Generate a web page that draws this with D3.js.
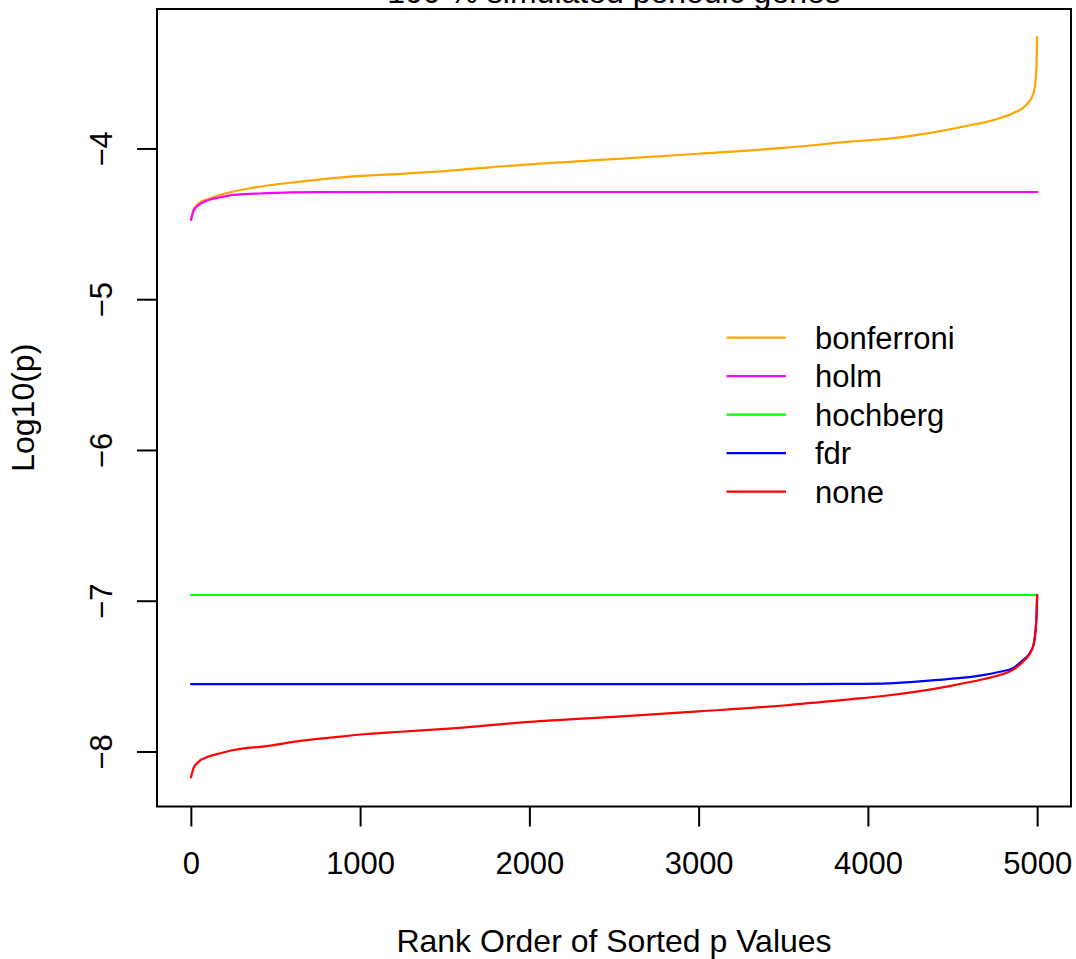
<!DOCTYPE html>
<html>
<head>
<meta charset="utf-8">
<script src="https://cdn.jsdelivr.net/npm/d3@7"></script>
<style>
  html, body { margin: 0; padding: 0; background: #ffffff; }
  svg { display: block; }
  text { font-family: "Liberation Sans", Arial, Helvetica, sans-serif; fill: #000; }
</style>
</head>
<body>
<svg id="chart" width="1076" height="959"></svg>
<script>
// ---- data ----
const titleText = "100 % simulated periodic genes";
const xLabel = "Rank Order of Sorted p Values";
const yLabel = "Log10(p)";
const xTicks = [0, 1000, 2000, 3000, 4000, 5000];
const yTicks = [-8, -7, -6, -5, -4];
const methods = ["bonferroni", "holm", "hochberg", "fdr", "none"];
const methodColors = ["#FFA500", "#FF00FF", "#00FF00", "#0000FF", "#FF0000"];

const bonferroniRank = [1, 16, 46, 105, 174, 350, 646, 940, 1237, 1500, 2000, 2500, 3000, 3500, 3893, 4188, 4385, 4582, 4759, 4857, 4936, 4975, 4991, 4997, 5000];
const bonferroniLogP = [-4.474, -4.408, -4.364, -4.335, -4.308, -4.264, -4.220, -4.187, -4.169, -4.150, -4.105, -4.071, -4.035, -3.996, -3.955, -3.926, -3.893, -3.851, -3.806, -3.767, -3.711, -3.645, -3.546, -3.413, -3.262];

const holmRank = [1, 16, 46, 105, 174, 253, 450, 750, 1250, 5000];
const holmLogP = [-4.474, -4.413, -4.375, -4.342, -4.324, -4.308, -4.297, -4.290, -4.289, -4.289];

const hochbergRank = [1, 5000];
const hochbergLogP = [-6.962, -6.962];

const fdrRank = [1, 3500, 3893, 4090, 4287, 4483, 4680, 4779, 4857, 4916, 4956, 4979, 4991, 4997, 5000];
const fdrLogP = [-7.553, -7.553, -7.552, -7.550, -7.537, -7.519, -7.493, -7.471, -7.448, -7.393, -7.348, -7.290, -7.192, -7.082, -6.962];

const noneRank = [1, 16, 46, 105, 174, 253, 450, 646, 841, 1040, 1237, 1500, 2000, 2500, 3000, 3500, 3893, 4090, 4287, 4483, 4680, 4779, 4857, 4916, 4956, 4979, 4991, 4997, 5000];
const noneLogP = [-8.171, -8.111, -8.068, -8.034, -8.012, -7.990, -7.964, -7.930, -7.906, -7.884, -7.869, -7.850, -7.804, -7.770, -7.734, -7.695, -7.654, -7.632, -7.603, -7.566, -7.521, -7.493, -7.459, -7.404, -7.353, -7.293, -7.194, -7.083, -6.962];

const seriesRanks = [bonferroniRank, holmRank, hochbergRank, fdrRank, noneRank];
const seriesValues = [bonferroniLogP, holmLogP, hochbergLogP, fdrLogP, noneLogP];

// ---- layout ----
const plot = { left: 157, right: 1071, top: 9, bottom: 806.5 };
const tickFont = 31;
const labelFont = 32;

const svg = d3.select("#chart");

const x = d3.scaleLinear().domain([-200, 5200]).range([plot.left, plot.right]);
const y = d3.scaleLinear().domain([-8.365, -3.075]).range([plot.bottom, plot.top]);

// series lines
const line = d3.line().x(d => x(d[0])).y(d => y(d[1])).curve(d3.curveMonotoneX);
methods.forEach((m, i) => {
  const pts = seriesRanks[i].map((r, j) => [r, seriesValues[i][j]]);
  svg.append("path")
    .datum(pts)
    .attr("d", line)
    .attr("fill", "none")
    .attr("stroke", methodColors[i])
    .attr("stroke-width", 2.2)
    .attr("stroke-linejoin", "round")
    .attr("stroke-linecap", "round");
});

// box
svg.append("rect")
  .attr("x", plot.left).attr("y", plot.top)
  .attr("width", plot.right - plot.left).attr("height", plot.bottom - plot.top)
  .attr("fill", "none").attr("stroke", "#000").attr("stroke-width", 2);

// x axis
const gx = svg.append("g")
  .attr("transform", `translate(0,${plot.bottom})`)
  .call(d3.axisBottom(x).tickValues(xTicks).tickSize(20).tickPadding(25).tickFormat(d3.format("d")));
gx.select(".domain").remove();
gx.selectAll("line").attr("stroke", "#000").attr("stroke-width", 2);
gx.selectAll("text").attr("font-size", tickFont).attr("font-family", "Liberation Sans, Arial, sans-serif").attr("fill", "#000");

// y axis
const gy = svg.append("g")
  .attr("transform", `translate(${plot.left},0)`)
  .call(d3.axisLeft(y).tickValues(yTicks).tickSize(20).tickFormat(d => "\u2212" + Math.abs(d)));
gy.select(".domain").remove();
gy.selectAll("line").attr("stroke", "#000").attr("stroke-width", 2);
gy.selectAll("text")
  .attr("x", null).attr("dy", null)
  .attr("transform", "translate(-45,0) rotate(-90)")
  .attr("text-anchor", "middle")
  .attr("font-size", tickFont).attr("font-family", "Liberation Sans, Arial, sans-serif").attr("fill", "#000");

// axis titles
svg.append("text")
  .attr("x", (plot.left + plot.right) / 2).attr("y", 951.5)
  .attr("text-anchor", "middle").attr("font-size", labelFont)
  .text(xLabel);

svg.append("text")
  .attr("transform", `translate(34,${(plot.top + plot.bottom) / 2}) rotate(-90)`)
  .attr("text-anchor", "middle").attr("font-size", labelFont)
  .text(yLabel);

// main title (partly cut off at the top, as in the original)
svg.append("text")
  .attr("x", (plot.left + plot.right) / 2).attr("y", 3)
  .attr("text-anchor", "middle").attr("font-size", labelFont)
  .text(titleText);

// legend
const legY0 = 337.7, legStep = 38.5;
const leg = svg.append("g");
methods.forEach((m, i) => {
  const ly = legY0 + i * legStep;
  leg.append("line")
    .attr("x1", 726.5).attr("x2", 786)
    .attr("y1", ly).attr("y2", ly)
    .attr("stroke", methodColors[i]).attr("stroke-width", 2.2);
  leg.append("text")
    .attr("x", 815).attr("y", ly + 10.8)
    .attr("font-size", tickFont)
    .text(m);
});
</script>
</body>
</html>
